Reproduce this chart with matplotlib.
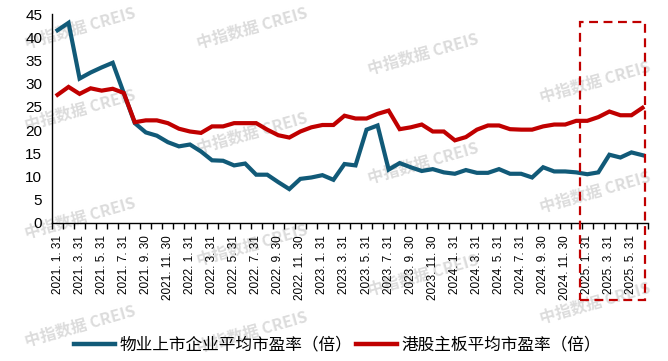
import numpy as np
import matplotlib
matplotlib.use("Agg")
import matplotlib.pyplot as plt
from matplotlib.lines import Line2D
from matplotlib.patches import Rectangle

plt.rcParams['font.family'] = ['Liberation Sans', 'Noto Sans CJK SC', 'DejaVu Sans']

# month-end dates 2021.1 .. 2025.6
months = []
for yr in range(2021, 2026):
    for m in range(1, 13):
        if yr == 2025 and m > 6:
            break
        d = 31 if m in (1, 3, 5, 7, 8, 10, 12) else (30 if m != 2 else 28)
        months.append("%d. %d. %d" % (yr, m, d))

wuye = [41.5, 43.1, 31.1, 32.4, 33.5, 34.5, 28.0, 21.5, 19.5, 18.8,
        17.4, 16.5, 16.9, 15.4, 13.5, 13.4, 12.4, 12.8, 10.4, 10.4,
        8.8, 7.3, 9.5, 9.8, 10.3, 9.3, 12.7, 12.4, 20.1, 21.0,
        11.5, 12.9, 12.0, 11.2, 11.6, 10.9, 10.6, 11.4, 10.8, 10.8,
        11.6, 10.6, 10.6, 9.8, 12.0, 11.1, 11.1, 10.9, 10.5, 10.9,
        14.7, 14.1, 15.2, 14.6]
ganggu = [27.6, 29.3, 27.8, 29.0, 28.5, 28.9, 28.0, 21.7, 22.1, 22.1,
          21.5, 20.3, 19.7, 19.4, 20.8, 20.8, 21.5, 21.5, 21.5, 20.1,
          18.9, 18.4, 19.7, 20.6, 21.1, 21.1, 23.1, 22.5, 22.5, 23.5,
          24.2, 20.2, 20.6, 21.2, 19.7, 19.7, 17.8, 18.5, 20.1, 21.0,
          21.0, 20.2, 20.1, 20.1, 20.8, 21.2, 21.2, 22.0, 22.0, 22.8,
          24.0, 23.2, 23.2, 24.8]
names = ["物业上市企业平均市盈率（倍）", "港股主板平均市盈率（倍）"]
blue = "#115a78"
red = "#c00000"

fig = plt.figure(figsize=(6.68, 3.61), dpi=100)
ax = fig.add_axes([52 / 668, 138 / 361, 596 / 668, 209 / 361])
ax.patch.set_alpha(0)

# watermark
wm_pos = [(80, 28), (80, 110), (80, 218), (80, 326),
          (252, 28), (252, 133), (252, 245), (252, 332),
          (423, 54), (423, 163), (423, 275),
          (595, 82), (595, 192), (595, 303)]
for px, py in wm_pos:
    fig.text(px / 668, 1 - py / 361, "中指数据 CREIS", fontsize=11.5, fontweight='bold',
             color='#dcdcdc', rotation=16, ha='center', va='center', zorder=-5,
             family=['Noto Sans CJK SC', 'DejaVu Sans'])

x = np.arange(len(months))
ax.plot(x, wuye, color=blue, lw=3, solid_joinstyle='miter', zorder=3)
ax.plot(x, ganggu, color=red, lw=3, solid_joinstyle='miter', zorder=3)

ax.set_xlim(-0.5, len(months) - 0.5)
ax.set_ylim(0, 45)
ax.set_yticks(range(0, 46, 5))
ax.tick_params(axis='y', length=0, pad=7, labelsize=11)
ax.set_xticks(x[::2])
ax.set_xticklabels(months[::2], rotation=90, fontsize=8.5)
ax.set_xticks(np.arange(-0.5, len(months), 1), minor=True)
ax.tick_params(axis='x', which='major', length=0, pad=9)
ax.tick_params(axis='x', which='minor', length=4.5, width=1)
for s in ['top', 'right']:
    ax.spines[s].set_visible(False)
ax.spines['left'].set_linewidth(1)
ax.spines['bottom'].set_linewidth(1)

# 2025 highlight box
ax.add_patch(Rectangle((47.3, -16.6), 53.2 - 47.3, 43.3 + 16.6, fill=False,
                       edgecolor=red, lw=1.6, ls=(0, (4, 2.5)), clip_on=False, zorder=4))

handles = [Line2D([], [], color=blue, lw=3.2), Line2D([], [], color=red, lw=3.2)]
fig.legend(handles, names, loc='center', bbox_to_anchor=(0.505, 0.044), ncol=2,
           frameon=False, handlelength=2.5, handletextpad=0.25, columnspacing=0.2,
           prop={'family': ['Noto Sans CJK SC', 'DejaVu Sans'], 'size': 12})

fig.savefig("out.png", dpi=100)
